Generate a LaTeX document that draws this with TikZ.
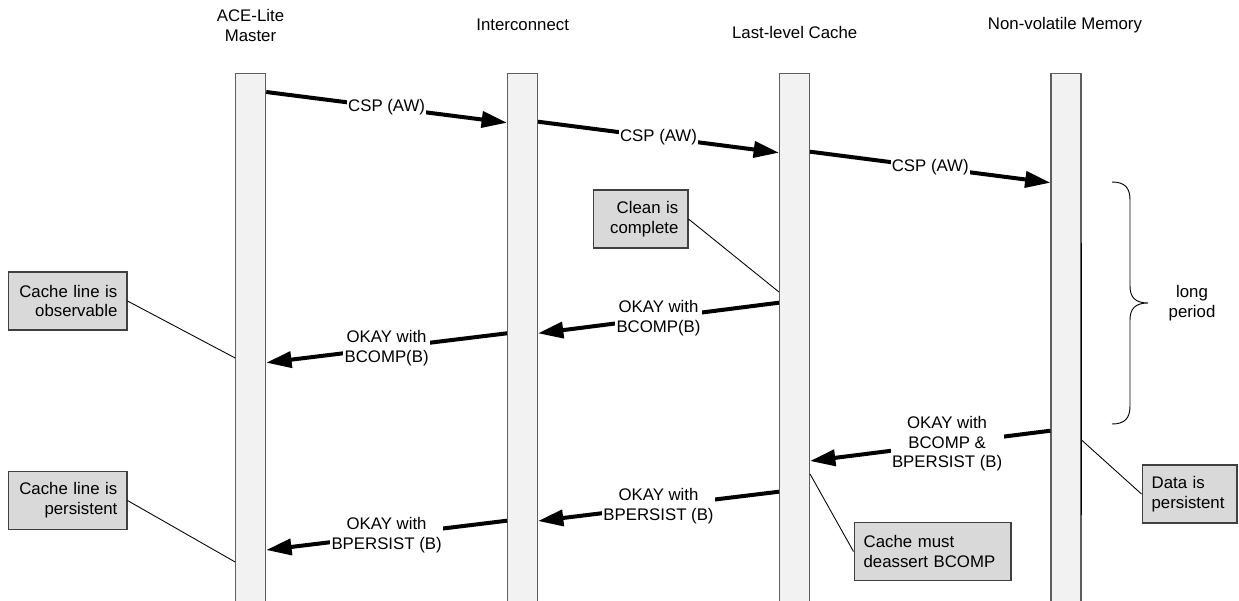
\documentclass[tikz,border=0pt]{standalone}
\usepackage{fontspec}
\setmainfont{Liberation Sans}
\usetikzlibrary{arrows.meta}
\definecolor{barfill}{HTML}{F2F2F2}
\definecolor{barline}{HTML}{5E5E5E}
\definecolor{notefill}{HTML}{D9D9D9}
\definecolor{noteline}{HTML}{404040}
\begin{document}
\begin{tikzpicture}[x=0.75pt,y=-0.75pt,
  every node/.style={font=\fontsize{12.6}{14.8}\selectfont},
  bar/.style={draw=barline, fill=barfill, line width=0.8pt, minimum width=22.5pt, minimum height=405pt, inner sep=0pt, anchor=north},
  head/.style={align=center, inner sep=0pt},
  msg/.style={line width=3pt, -{Triangle[length=19pt,width=12pt]}},
  lbl/.style={fill=white, inner sep=1pt, align=center},
  note/.style={draw=noteline, fill=notefill, line width=0.8pt, minimum height=43.5pt, inner xsep=7.2pt, inner ysep=2pt},
  link/.style={line width=0.65pt}
]
\useasboundingbox (0,0) rectangle (1239,600);
\clip (0,0) rectangle (1239,600);

% headers
\node[head] (hace) at (250.5,25.3) {ACE-Lite\\Master};
\node[head] (hic)  at (522.7,25) {Interconnect};
\node[head] (hllc) at (794.7,32) {Last-level Cache};
\node[head] (hnvm) at (1065,25) {Non-volatile Memory};

% lifelines
\node[bar] (ace) at (250.7,73) {};
\node[bar] (ic)  at (522.5,73) {};
\node[bar] (llc) at (794.5,73) {};
\node[bar] (nvm) at (1066,73) {};
\draw[black, line width=0.8pt] (nvm.east |- 0,243) -- (nvm.east |- 0,515);

% messages
\draw[msg] (ace.east |- 0,92) -- node[lbl] {CSP (AW)} (ic.west |- 0,122.7);
\draw[msg] (ic.east |- 0,121.7) -- node[lbl] {CSP (AW)} (llc.west |- 0,152.7);
\draw[msg] (llc.east |- 0,151.7) -- node[lbl] {CSP (AW)} (nvm.west |- 0,182.7);
\draw[msg] (llc.west |- 0,302.7) -- node[lbl] {OKAY with\\BCOMP(B)} (ic.east |- 0,333.3);
\draw[msg] (ic.west |- 0,333.3) -- node[lbl] {OKAY with\\BCOMP(B)} (ace.east |- 0,362.7);
\draw[msg] (nvm.west |- 0,430.7) -- node[lbl, pos=0.43] {OKAY with\\BCOMP \&\\BPERSIST (B)} (llc.east |- 0,461);
\draw[msg] (llc.west |- 0,491.7) -- node[lbl] {OKAY with\\BPERSIST (B)} (ic.east |- 0,521);
\draw[msg] (ic.west |- 0,520.7) -- node[lbl] {OKAY with\\BPERSIST (B)} (ace.east |- 0,550);

% notes
\node[note, text width=74.8pt, align=right] (obs) at (67.5,301) {Cache line is\\observable};
\node[note, text width=56.8pt, align=right] (clean) at (640.5,219) {Clean is\\complete};
\node[note, text width=74.8pt, align=right] (cpers) at (67.5,500.5) {Cache line is\\persistent};
\node[note, text width=103.3pt, align=left] (deass) at (932.5,551.5) {Cache must\\deassert BCOMP};
\node[note, text width=56.8pt, align=left] (dpers) at (1189.5,494) {Data is\\persistent};

\draw[link] (obs.east) -- (ace.west |- 0,358);
\draw[link] (clean.east) -- (llc.west |- 0,292);
\draw[link] (cpers.east) -- (ace.west |- 0,562);
\draw[link] (deass.west) -- (llc.east |- 0,474);
\draw[link] (dpers.west) -- (nvm.east |- 0,440);

% brace
\draw[line width=0.7pt] (1112,182) .. controls (1125,182) and (1130,188) .. (1130,200) -- (1130,286)
  .. controls (1130,297) and (1135,303) .. (1148,303)
  .. controls (1135,303) and (1130,309) .. (1130,320) -- (1130,406)
  .. controls (1130,418) and (1125,424) .. (1112,424);
\node[head] (long) at (1192,303) {long\\period};
\end{tikzpicture}
\end{document}
